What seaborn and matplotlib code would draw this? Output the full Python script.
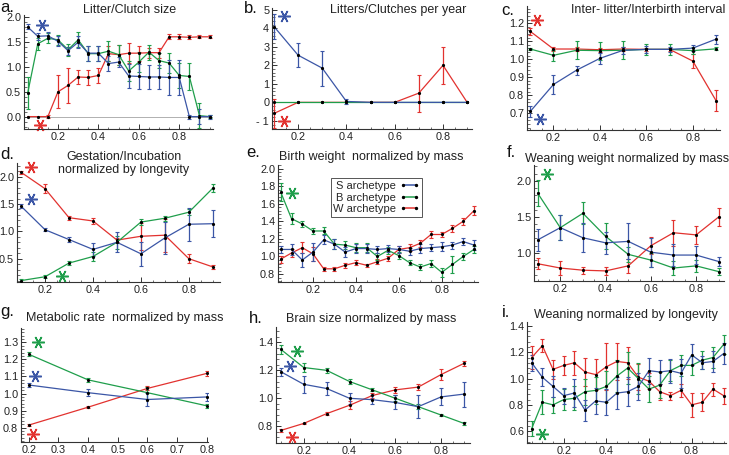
import numpy as np
import pandas as pd
import matplotlib.pyplot as plt
import seaborn as sns
from matplotlib.lines import Line2D
from matplotlib.ticker import AutoMinorLocator, FuncFormatter

sns.set_style("ticks")
plt.rcParams["font.family"] = ["Liberation Sans", "DejaVu Sans"]

BLUE = "#3b56a6"
GREEN = "#1f9e4b"
RED = "#e2322f"
COLORS = {"S": BLUE, "B": GREEN, "W": RED}

# x positions (archetype weight)
x19 = [0.05, 0.10, 0.15, 0.20, 0.25, 0.30, 0.35, 0.40, 0.45, 0.50,
       0.55, 0.60, 0.65, 0.70, 0.75, 0.80, 0.85, 0.90, 0.95]
x9 = [0.1, 0.2, 0.3, 0.4, 0.5, 0.6, 0.7, 0.8, 0.9]
x4 = [0.2, 0.4, 0.6, 0.8]

# a. Litter/Clutch size
a_S = [1.81, 1.62, 1.63, 1.52, 1.33, 1.50, 1.28, 1.28, 1.07, 1.10, 0.82, 0.81, 0.80, 0.80, 0.79, 0.79, 0.00, 0.00, 0.00]
a_S_err = [0.05, 0.07, 0.07, 0.10, 0.08, 0.12, 0.15, 0.15, 0.15, 0.10, 0.25, 0.25, 0.25, 0.25, 0.35, 0.35, 0.04, 0.15, 0.04]
a_B = [0.47, 1.47, 1.58, 1.55, 1.35, 1.55, 1.27, 1.27, 1.32, 1.25, 0.92, 1.10, 1.30, 1.13, 1.08, 0.83, 0.81, 0.02, 0.00]
a_B_err = [0.32, 0.12, 0.10, 0.10, 0.12, 0.15, 0.15, 0.15, 0.20, 0.20, 0.20, 0.20, 0.15, 0.15, 0.20, 0.25, 0.28, 0.25, 0.03]
a_W = [0.00, 0.00, 0.00, 0.50, 0.63, 0.80, 0.79, 0.83, 1.27, 1.25, 1.28, 1.28, 1.29, 1.29, 1.61, 1.61, 1.60, 1.61, 1.61]
a_W_err = [0.00, 0.00, 0.03, 0.33, 0.35, 0.15, 0.15, 0.15, 0.15, 0.20, 0.20, 0.15, 0.10, 0.10, 0.05, 0.05, 0.04, 0.03, 0.03]

# b. Litters/Clutches per year
b_S = [4.10, 2.55, 1.85, 0.05, 0.0, 0.0, 0.0, 0.0, 0.0]
b_S_err = [0.65, 0.65, 0.95, 0.15, 0.0, 0.0, 0.0, 0.0, 0.0]
b_B = [0.0, 0.0, 0.0, 0.0, 0.0, 0.0, 0.0, 0.0, 0.0]
b_B_err = [0.0, 0.0, 0.0, 0.0, 0.0, 0.0, 0.0, 0.0, 0.0]
b_W = [-0.60, 0.0, 0.0, 0.0, 0.0, 0.0, 0.50, 2.00, 0.0]
b_W_err = [0.80, 0.0, 0.0, 0.0, 0.0, 0.0, 1.00, 1.00, 0.0]

# c. Inter-litter/Interbirth interval
c_S = [0.710, 0.860, 0.940, 1.005, 1.050, 1.055, 1.055, 1.062, 1.112]
c_S_err = [0.030, 0.055, 0.025, 0.030, 0.020, 0.020, 0.015, 0.015, 0.025]
c_B = [1.057, 1.022, 1.050, 1.048, 1.050, 1.055, 1.055, 1.048, 1.058]
c_B_err = [0.008, 0.030, 0.050, 0.050, 0.050, 0.030, 0.030, 0.020, 0.008]
c_W = [1.155, 1.057, 1.057, 1.053, 1.057, 1.055, 1.055, 0.990, 0.770]
c_W_err = [0.020, 0.010, 0.010, 0.010, 0.010, 0.010, 0.010, 0.040, 0.060]

# d. Gestation/Incubation normalized by longevity
d_S = [1.46, 1.03, 0.85, 0.67, 0.80, 0.59, 0.88, 1.13, 1.14]
d_S_err = [0.04, 0.03, 0.04, 0.12, 0.18, 0.22, 0.30, 0.30, 0.25]
d_B = [0.10, 0.17, 0.42, 0.54, 0.80, 1.17, 1.24, 1.35, 1.79]
d_B_err = [0.02, 0.03, 0.04, 0.08, 0.12, 0.05, 0.05, 0.05, 0.07]
d_W = [2.08, 1.78, 1.25, 1.19, 0.84, 0.91, 0.93, 0.50, 0.35]
d_W_err = [0.03, 0.08, 0.04, 0.06, 0.04, 0.25, 0.30, 0.08, 0.04]

# e. Birth weight normalized by mass
e_S = [1.08, 1.08, 0.96, 1.05, 1.19, 1.14, 1.05, 1.09, 1.09, 1.08, 1.09, 1.08, 1.06, 1.09, 1.10, 1.11, 1.13, 1.17, 1.13]
e_S_err = [0.04, 0.06, 0.08, 0.10, 0.05, 0.06, 0.06, 0.05, 0.05, 0.04, 0.04, 0.04, 0.04, 0.05, 0.04, 0.05, 0.04, 0.04, 0.06]
e_B = [1.73, 1.43, 1.37, 1.29, 1.29, 1.14, 1.13, 1.10, 1.10, 1.00, 1.07, 1.01, 0.93, 0.88, 0.92, 0.82, 0.91, 1.00, 1.08]
e_B_err = [0.10, 0.06, 0.03, 0.03, 0.04, 0.06, 0.05, 0.05, 0.05, 0.04, 0.04, 0.04, 0.03, 0.03, 0.04, 0.05, 0.10, 0.04, 0.04]
e_W = [0.97, 1.04, 1.10, 1.03, 0.86, 0.86, 0.90, 0.93, 0.90, 0.94, 0.98, 1.08, 1.10, 1.15, 1.25, 1.25, 1.32, 1.40, 1.52]
e_W_err = [0.04, 0.05, 0.06, 0.08, 0.02, 0.02, 0.03, 0.03, 0.02, 0.03, 0.03, 0.04, 0.04, 0.04, 0.04, 0.03, 0.04, 0.04, 0.05]

# f. Weaning weight normalized by mass
f_S = [1.18, 1.35, 1.21, 1.14, 1.16, 1.01, 0.97, 0.97, 0.88]
f_S_err = [0.15, 0.17, 0.20, 0.15, 0.25, 0.20, 0.15, 0.12, 0.06]
f_B = [1.83, 1.35, 1.55, 1.23, 0.98, 0.90, 0.79, 0.82, 0.74]
f_B_err = [0.18, 0.17, 0.15, 0.18, 0.10, 0.10, 0.10, 0.08, 0.05]
f_W = [0.85, 0.79, 0.76, 0.75, 0.82, 1.10, 1.28, 1.25, 1.50]
f_W_err = [0.08, 0.10, 0.05, 0.05, 0.10, 0.12, 0.18, 0.12, 0.13]

# g. Metabolic rate normalized by mass
g_S = [1.050, 1.005, 0.965, 0.980]
g_S_err = [0.012, 0.020, 0.040, 0.025]
g_B = [1.230, 1.080, 1.005, 0.928]
g_B_err = [0.012, 0.012, 0.035, 0.012]
g_W = [0.815, 0.920, 1.030, 1.118]
g_W_err = [0.006, 0.006, 0.012, 0.015]

# h. Brain size normalized by mass
h_S = [1.19, 1.10, 1.07, 1.00, 0.99, 0.97, 0.94, 1.01, 1.03]
h_S_err = [0.03, 0.06, 0.05, 0.04, 0.03, 0.05, 0.08, 0.06, 0.09]
h_B = [1.35, 1.22, 1.20, 1.12, 1.06, 1.00, 0.94, 0.88, 0.82]
h_B_err = [0.03, 0.03, 0.02, 0.02, 0.01, 0.02, 0.02, 0.01, 0.01]
h_W = [0.77, 0.82, 0.89, 0.95, 1.02, 1.06, 1.08, 1.17, 1.25]
h_W_err = [0.01, 0.005, 0.01, 0.03, 0.02, 0.02, 0.02, 0.04, 0.02]

# i. Weaning normalized by longevity
i_S = [1.12, 1.01, 0.94, 0.87, 0.89, 0.76, 0.83, 0.82, 0.89, 0.90, 0.94, 1.06, 1.05, 1.06, 1.04, 1.18, 1.12, 1.13, 1.19]
i_S_err = [0.06, 0.07, 0.08, 0.06, 0.11, 0.08, 0.10, 0.10, 0.12, 0.11, 0.10, 0.10, 0.09, 0.09, 0.11, 0.08, 0.05, 0.08, 0.08]
i_B = [0.62, 0.82, 0.80, 0.84, 0.85, 0.90, 0.91, 0.94, 1.02, 1.08, 1.00, 0.92, 0.95, 1.06, 1.10, 1.10, 1.14, 1.16, 1.26]
i_B_err = [0.06, 0.09, 0.06, 0.08, 0.09, 0.10, 0.10, 0.12, 0.12, 0.12, 0.12, 0.10, 0.10, 0.08, 0.08, 0.07, 0.07, 0.08, 0.07]
i_W = [1.16, 1.25, 1.07, 1.10, 1.12, 1.05, 1.03, 1.09, 1.13, 1.12, 1.01, 0.98, 0.90, 0.87, 0.91, 0.80, 0.82, 0.92, 0.87]
i_W_err = [0.09, 0.05, 0.07, 0.07, 0.09, 0.11, 0.12, 0.18, 0.14, 0.12, 0.10, 0.06, 0.06, 0.03, 0.05, 0.09, 0.07, 0.05, 0.06]

titles = ["Litter/Clutch size", "Litters/Clutches per year", "Inter- litter/Interbirth interval",
          "Gestation/Incubation\nnormalized by longevity", "Birth weight  normalized by mass",
          "Weaning weight normalized by mass", "Metabolic rate  normalized by mass",
          "Brain size normalized by mass", "Weaning normalized by longevity"]
letters = ["a.", "b.", "c.", "d.", "e.", "f.", "g.", "h.", "i."]

# significance stars: (archetype, x, y) in data units
stars = {
    "a": [("S", 0.12, 1.85), ("W", 0.11, -0.17)],
    "b": [("S", 0.14, 4.65), ("W", 0.14, -1.0)],
    "c": [("W", 0.13, 1.22), ("S", 0.14, 0.67)],
    "d": [("W", 0.14, 2.17), ("S", 0.14, 1.60), ("B", 0.27, 0.18)],
    "e": [("B", 0.10, 1.72)],
    "f": [("B", 0.14, 2.10)],
    "g": [("B", 0.23, 1.30), ("S", 0.22, 1.105), ("W", 0.215, 0.76)],
    "h": [("B", 0.17, 1.335), ("S", 0.14, 1.23), ("W", 0.15, 0.72)],
    "i": [("B", 0.10, 0.58)],
}

W, H = 729, 455
fig = plt.figure(figsize=(W / 100, H / 100), dpi=100)


def rect(l, t, r, b):
    return [l / W, 1 - b / H, (r - l) / W, (b - t) / H]


panels = [
    dict(key="a", x=x19, S=(a_S, a_S_err), B=(a_B, a_B_err), Wt=(a_W, a_W_err),
         box=(24, 15, 213, 129), xlim=(0.032, 0.967), ylim=(-0.25, 2.05), yticks=[0, 0.5, 1.0, 1.5, 2.0]),
    dict(key="b", x=x9, S=(b_S, b_S_err), B=(b_B, b_B_err), Wt=(b_W, b_W_err),
         box=(272, 8, 472, 129), xlim=(0.092, 0.92), ylim=(-1.44, 5.1), yticks=[-1, 0, 1, 2, 3, 4, 5]),
    dict(key="c", x=x9, S=(c_S, c_S_err), B=(c_B, c_B_err), Wt=(c_W, c_W_err),
         box=(527, 6, 720, 130), xlim=(0.086, 0.917), ylim=(0.607, 1.296), yticks=[0.7, 0.8, 0.9, 1.0, 1.1, 1.2]),
    dict(key="d", x=x9, S=(d_S, d_S_err), B=(d_B, d_B_err), Wt=(d_W, d_W_err),
         box=(17, 163, 220, 282), xlim=(0.083, 0.93), ylim=(0.074, 2.25), yticks=[0.5, 1.0, 1.5, 2.0]),
    dict(key="e", x=x19, S=(e_S, e_S_err), B=(e_B, e_B_err), Wt=(e_W, e_W_err),
         box=(278, 165, 478, 282), xlim=(0.037, 0.969), ylim=(0.71, 2.04), yticks=[0.8, 1.0, 1.2, 1.4, 1.6, 1.8, 2.0]),
    dict(key="f", x=x9, S=(f_S, f_S_err), B=(f_B, f_B_err), Wt=(f_W, f_W_err),
         box=(534, 165, 724, 281), xlim=(0.084, 0.923), ylim=(0.61, 2.22), yticks=[1.0, 1.5, 2.0]),
    dict(key="g", x=x4, S=(g_S, g_S_err), B=(g_B, g_B_err), Wt=(g_W, g_W_err),
         box=(21, 328, 208, 442), xlim=(0.174, 0.804), ylim=(0.716, 1.384), yticks=[0.8, 0.9, 1.0, 1.1, 1.2, 1.3]),
    dict(key="h", x=x9, S=(h_S, h_S_err), B=(h_B, h_B_err), Wt=(h_W, h_W_err),
         box=(276, 327, 470, 443), xlim=(0.079, 0.926), ylim=(0.68, 1.51), yticks=[0.8, 1.0, 1.2, 1.4]),
    dict(key="i", x=x19, S=(i_S, i_S_err), B=(i_B, i_B_err), Wt=(i_W, i_W_err),
         box=(527, 322, 726, 443), xlim=(0.028, 0.961), ylim=(0.51, 1.43), yticks=[0.6, 0.8, 1.0, 1.2, 1.4]),
]

# title centres and letter positions in pixels
title_pos = [(130, 4), (398, 4), (648, 4), (124, 151), (371, 151), (627, 153), (125, 312), (371, 313), (626, 309)]
letter_pos = [(0, 0), (244, 1), (501, 3), (0, 147), (246, 145), (507, 145), (0, 304), (249, 311), (502, 305)]

for p, title, letter, tp, lp in zip(panels, titles, letters, title_pos, letter_pos):
    ax = fig.add_axes(rect(*p["box"]))
    rows = []
    for arch, key in [("W", "Wt"), ("B", "B"), ("S", "S")]:
        vals, errs = p[key]
        for xv, yv in zip(p["x"], vals):
            rows.append({"x": xv, "y": yv, "archetype": arch})
    df = pd.DataFrame(rows)

    if p["key"] == "a":
        ax.axhline(0, color="#b0b0b0", lw=0.7, zorder=0)

    sns.lineplot(data=df, x="x", y="y", hue="archetype", hue_order=["W", "B", "S"],
                 palette=COLORS, linewidth=0.9, marker="o", markersize=2.3,
                 markerfacecolor="black", markeredgecolor="black", markeredgewidth=0,
                 legend=False, sort=False, ax=ax, zorder=3)

    for arch, key in [("W", "Wt"), ("B", "B"), ("S", "S")]:
        vals, errs = p[key]
        xs = np.array(p["x"])
        vs = np.array(vals)
        es = np.array(errs)
        m = es > 0
        ax.errorbar(xs[m], vs[m], yerr=es[m], fmt="none", ecolor=COLORS[arch],
                    elinewidth=0.9, capsize=1.6, capthick=0.8, zorder=2)

    for arch, sx, sy in stars[p["key"]]:
        ax.plot([sx], [sy], ls="none", marker=(6, 2, 90), ms=9, mew=1.1,
                color=COLORS[arch], clip_on=False)

    ax.set_xlim(*p["xlim"])
    ax.set_ylim(*p["ylim"])
    ax.set_yticks(p["yticks"])
    if p["key"] == "g":
        ax.set_xticks([0.2, 0.3, 0.4, 0.5, 0.6, 0.7, 0.8])
    else:
        ax.set_xticks([0.2, 0.4, 0.6, 0.8])
        ax.xaxis.set_minor_locator(AutoMinorLocator(4))
    ax.xaxis.set_major_formatter(FuncFormatter(lambda v, _: f"{v:.1f}"))
    if p["key"] == "b":
        ax.yaxis.set_major_formatter(FuncFormatter(lambda v, _: f"- {abs(int(v))}" if v < 0 else f"{int(v)}"))
    else:
        ax.yaxis.set_major_formatter(FuncFormatter(lambda v, _: f"{v:.1f}"))
    ax.yaxis.set_minor_locator(AutoMinorLocator(5))
    ax.set_xlabel("")
    ax.set_ylabel("")
    sns.despine(ax=ax)
    for s in ["left", "bottom"]:
        ax.spines[s].set_linewidth(0.8)
        ax.spines[s].set_color("#333333")
    ax.tick_params(which="major", direction="in", length=3.5, width=0.7, labelsize=7.8, pad=2, colors="#333333",
                   labelcolor="#222222")
    ax.tick_params(which="minor", direction="in", length=1.8, width=0.5, colors="#333333")
    ax.patch.set_alpha(0)

    fig.text(tp[0] / W, 1 - tp[1] / H, title, ha="center", va="top", fontsize=9,
             color="#222222", linespacing=1.1)
    fig.text(lp[0] / W, 1 - lp[1] / H, letter, ha="left", va="top", fontsize=12, color="#111111")

    if p["key"] == "e":
        handles = [Line2D([0], [0], color=COLORS[k], lw=1.1, marker="o", ms=1.4, mfc="black", mec="black")
                   for k in ["S", "B", "W"]]
        ax.legend(handles, ["S archetype", "B archetype", "W archetype"], loc="upper left",
                  bbox_to_anchor=(0.235, 0.935), markerfirst=False, numpoints=2, handlelength=1.8,
                  handletextpad=0.3, labelspacing=0.15, borderpad=0.25, fontsize=8,
                  frameon=True, fancybox=False, edgecolor="#555555", framealpha=1)
        ax.get_legend().get_frame().set_linewidth(0.7)

fig.savefig("out.png", dpi=100)
